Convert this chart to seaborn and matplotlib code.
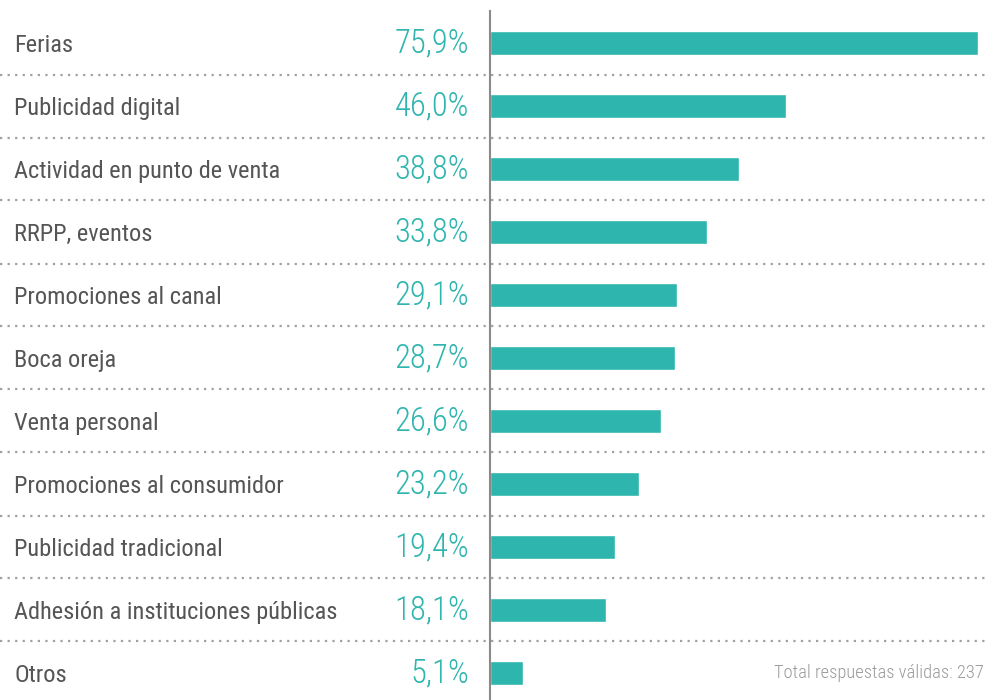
import os
import matplotlib
matplotlib.use("Agg")
import matplotlib.pyplot as plt
import matplotlib.transforms as mtransforms
from matplotlib import font_manager
from matplotlib.font_manager import FontProperties
import seaborn as sns
import pandas as pd

categories = ["Ferias", "Publicidad digital", "Actividad en punto de venta", "RRPP, eventos",
              "Promociones al canal", "Boca oreja", "Venta personal", "Promociones al consumidor",
              "Publicidad tradicional", "Adhesión a instituciones públicas", "Otros"]
values = [75.9, 46.0, 38.8, 33.8, 29.1, 28.7, 26.6, 23.2, 19.4, 18.1, 5.1]
value_labels = ["75,9%", "46,0%", "38,8%", "33,8%", "29,1%", "28,7%", "26,6%", "23,2%",
                "19,4%", "18,1%", "5,1%"]
footnote = "Total respuestas válidas: 237"

files = {os.path.basename(f.fname).lower(): f.fname for f in font_manager.fontManager.ttflist}


def pick(cands):
    for c in cands:
        if c.lower() in files:
            return files[c.lower()]
    return None


reg_file = pick(["RobotoCondensed-Regular.ttf", "LiberationSansNarrow-Regular.ttf",
                 "DejaVuSansCondensed.ttf"])
light_file = pick(["RobotoCondensed-Light.ttf", "RobotoCondensed-Regular.ttf",
                   "LiberationSansNarrow-Regular.ttf", "DejaVuSansCondensed.ttf"])


def fp(path, size):
    if path:
        return FontProperties(fname=path, size=size)
    return FontProperties(family="Roboto", size=size)


TEAL = "#2EB5AE"
sns.set_theme(style="white")
plt.rcParams['font.family'] = ['Roboto', 'DejaVu Sans']

W, H = 985, 700
fig = plt.figure(figsize=(W / 100, H / 100), dpi=100)
x0 = 490
ax = fig.add_axes([x0 / W, 0, (W - x0) / W, (H - 11) / H])

df = pd.DataFrame({"cat": categories, "val": values})
sns.barplot(data=df, y="cat", x="val", orient="h", color=TEAL, width=0.39,
            saturation=1, ax=ax)

px_per_unit = (978 - 490) / 75.9
ax.set_xlim(0, (W - x0) / px_per_unit)
pitch = 63.0
ax.set_ylim(10 + (700 - 673) / pitch, -(43 - 11) / pitch)
ax.set_xlabel("")
ax.set_ylabel("")
ax.set_xticks([])
ax.set_yticks([])
for s in ["top", "right", "bottom"]:
    ax.spines[s].set_visible(False)
ax.spines["left"].set_color("#8a8a8a")
ax.spines["left"].set_linewidth(1.5)

# dotted separators
frac_left = -x0 / (W - x0)
for i in range(len(categories) - 1):
    ax.axhline(i + 0.5, xmin=frac_left, xmax=1, color="#a0a0a0", lw=1.6,
               linestyle=(0, (1, 2.4)), clip_on=False, zorder=0)

trans = mtransforms.blended_transform_factory(fig.transFigure, ax.transData)
for i, (c, vl) in enumerate(zip(categories, value_labels)):
    ax.text(14 / W, i + 0.04, c, transform=trans, ha="left", va="center",
            fontproperties=fp(reg_file, 17.6), color="#555555")
    ax.text(469 / W, i + 0.0, vl, transform=trans, ha="right", va="center",
            fontproperties=fp(light_file, 23.5), color=TEAL)

ax.text(984 / W, 10, footnote, transform=trans, ha="right", va="center",
        fontproperties=fp(light_file, 13.3), color="#9a9a9a")

fig.savefig("out.png", dpi=100)
